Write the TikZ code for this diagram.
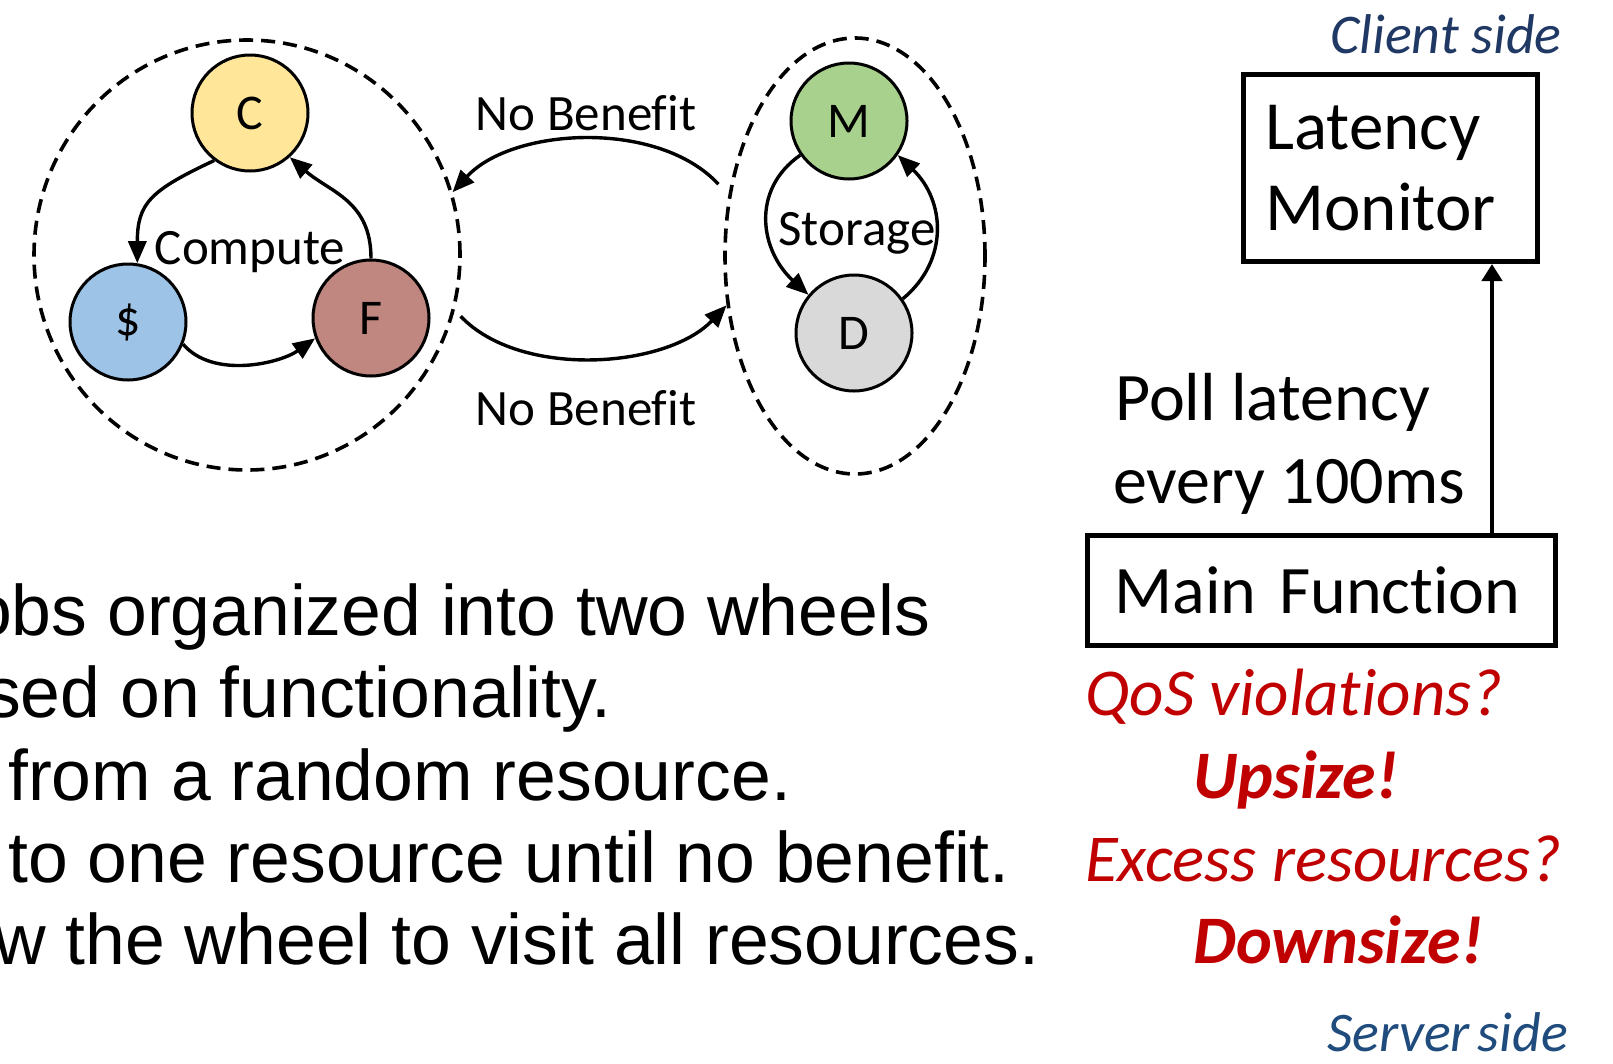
\documentclass[tikz,border=0pt]{standalone}
\usepackage{fontspec}
\setmainfont{Carlito}[Ligatures={NoCommon}]
\newfontfamily\arialf{Liberation Sans}
\usetikzlibrary{arrows.meta,shapes.geometric,calc}
\definecolor{cyel}{HTML}{FFE699}
\definecolor{cblue}{HTML}{9DC3E6}
\definecolor{cbrown}{HTML}{BF877F}
\definecolor{cgreen}{HTML}{A9D18E}
\definecolor{cgray}{HTML}{D9D9D9}
\definecolor{cred}{HTML}{C00000}
\definecolor{cnavy}{HTML}{1F3864}
\definecolor{cnavyb}{HTML}{1F4B7D}
\begin{document}
\begin{tikzpicture}[x=1pt,y=-1pt,
  res/.style={circle,draw=black,line width=3pt,minimum size=116pt,inner sep=0pt,font=\fontsize{50}{60}\selectfont},
  wheel/.style={ellipse,draw=black,line width=3.6pt,dash pattern=on 14pt off 8pt,inner sep=0pt},
  lbl/.style={font=\fontsize{51}{61}\selectfont,inner sep=0pt},
  flow/.style={line width=3.4pt,-{Triangle[length=22pt,width=18pt]}},
  box/.style={draw=black,line width=5pt,inner ysep=0pt,anchor=north west},
  txt/.style={inner sep=0pt,anchor=base west},
  big/.style={font=\arialf\fontsize{71.5}{82}\selectfont},
  side/.style={inner sep=0pt,anchor=base east,font=\fontsize{56}{66}\selectfont\itshape},
  redq/.style={txt,text=cred,font=\fontsize{67}{80}\selectfont\itshape},
  reda/.style={txt,text=cred,font=\fontsize{68}{80}\selectfont\bfseries\itshape}]
\useasboundingbox (0,0) rectangle (1613,1063);
% wheels
\node[wheel,minimum width=426pt,minimum height=430pt] (wheelL) at (247,255) {};
\node[wheel,minimum width=260pt,minimum height=436pt] (wheelR) at (855,256) {};
% resources
\node[res,fill=cyel] (C) at (250,113) {C};
\node[res,fill=cblue] (S) at (128,322) {\$};
\node[res,fill=cbrown] (F) at (371,318) {F};
\node[res,fill=cgreen] (M) at (849,121) {M};
\node[res,fill=cgray] (D) at (854,333) {D};
% labels
\node[lbl] (lc) at (250,252) {Compute};
\node[lbl] (ls) at (857,233) {Storage};
\node[lbl] (nb1) at (586,113) {No Benefit};
\node[lbl] (nb2) at (586,408) {No Benefit};
% compute wheel arrows
\draw[flow] (C.233) .. controls +(-64,30) and +(0,-60) .. (S.81);
\draw[flow] (F.90) .. controls +(0,-58) and +(40,35) .. (C.-48);
\draw[flow] (S.-22) .. controls +(30,35) and +(-35,25) .. (F.200);
% storage wheel arrows
\draw[flow] (M.215) .. controls +(-50,35) and +(-48,-44) .. (D.140);
\draw[flow] (D.35) .. controls +(47,-39) and +(47,45) .. (M.-35);
% between wheels
\draw[flow] ($(wheelR.152)+(-11,-5)$) .. controls +(-60,-65) and +(60,-65) .. (wheelL.17);
\draw[flow] ($(wheelL.-16)+(7,2)$) .. controls +(60,63) and +(-60,63) .. (wheelR.201);
% right side
\node[side,text=cnavy] (cs) at (1562,53) {Client side};
\node[box,minimum width=294pt,minimum height=187pt,text width=250pt,inner xsep=22pt,align=left,font=\fontsize{69}{81}\selectfont] (LM) at (1241,72) {Latency\\Monitor};
\node[box,minimum width=468pt,minimum height=110pt,text width=414pt,inner xsep=27pt,align=left,font=\fontsize{68}{80}\selectfont] (MF) at (1085,533) {Main Function};
\coordinate (ax) at (1492,400);
\draw[line width=4.5pt,-{Triangle[length=17pt,width=20pt]}] (MF.north -| ax) -- (LM.south -| ax);
\node[txt,font=\fontsize{68}{80}\selectfont] (pl1) at (1115,420) {Poll latency};
\node[txt,font=\fontsize{68}{80}\selectfont] (pl2) at (1113,503) {every 100ms};
\node[redq] (q1) at (1085,715) {QoS violations?};
\node[reda] (a1) at (1193,798) {Upsize!};
\node[redq] (q2) at (1085,881) {Excess resources?};
\node[reda] (a2) at (1193,963) {Downsize!};
\node[side,text=cnavyb] (ss) at (1568,1051) {Server\hspace{-5pt} side};
% bottom-left text, cut at the left edge
\begin{scope}
\clip (0,0) rectangle (1613,1063);
\node[txt,big] (t1) at (-28,635) {obs organized into two wheels};
\node[txt,big] (t2) at (-15,717) {sed on functionality.};
\node[txt,big] (t3) at (8,800) {from a random resource.};
\node[txt,big] (t4) at (8,882) {to one resource until no benefit.};
\node[txt,big] (t5) at (-6,964) {w the wheel to visit all resources.};
\end{scope}
\end{tikzpicture}
\end{document}
